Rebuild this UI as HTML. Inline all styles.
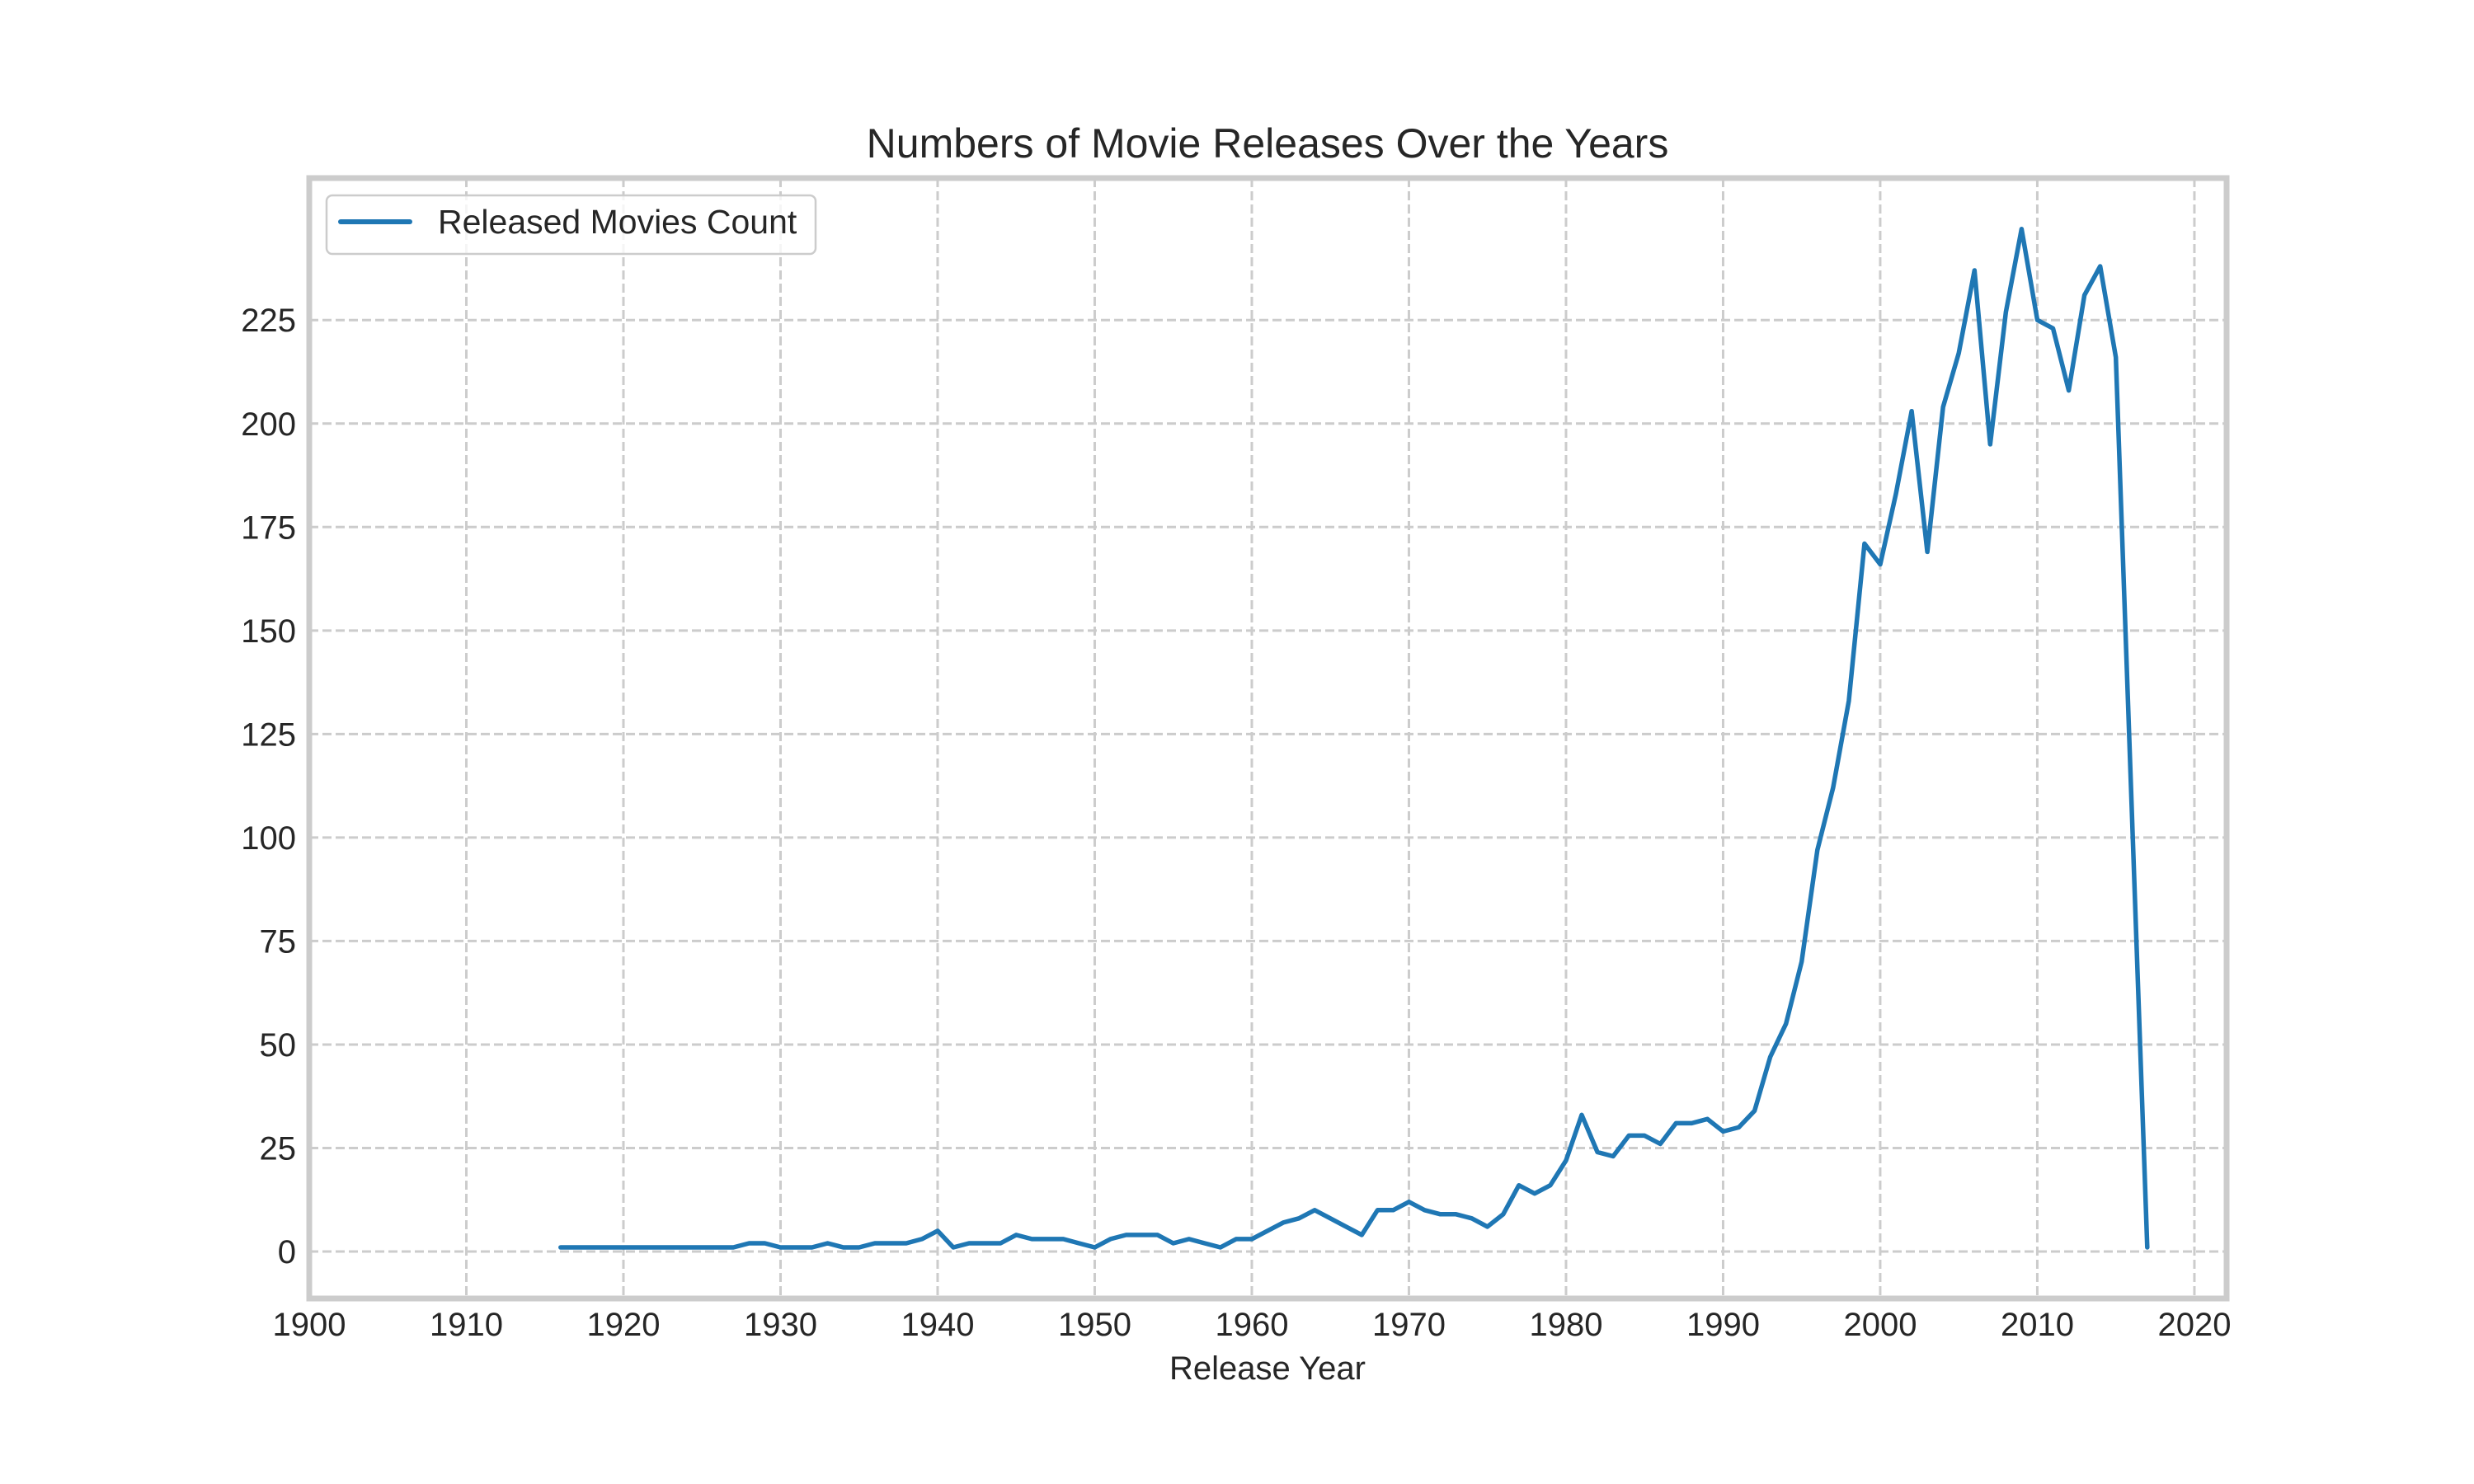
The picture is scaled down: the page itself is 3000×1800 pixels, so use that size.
<!DOCTYPE html>
<html><head><meta charset="utf-8"><style>
html,body{margin:0;padding:0;background:#fff;}
svg{display:block;font-family:"Liberation Sans",Arial,sans-serif;}
</style></head><body>
<svg id="chart" width="3000" height="1800" viewBox="0 0 3000 1800" xmlns="http://www.w3.org/2000/svg">
<rect x="0" y="0" width="3000" height="1800" fill="#fff"/>
<text x="1537" y="191" font-size="50" fill="#262626" text-anchor="middle">Numbers of Movie Releases Over the Years</text>
<text x="1537" y="1673" font-size="40" fill="#262626" text-anchor="middle">Release Year</text>
<g id="grid"></g>
<g id="ticks"></g>
<g id="series"></g>
<rect x="375" y="216" width="2325" height="1359" fill="none" stroke="#cccccc" stroke-width="7"/>
<g>
<rect x="396" y="237" width="593" height="71" rx="7" fill="#fff" fill-opacity="0.8" stroke="#cccccc" stroke-width="2.5"/>
<line x1="413" y1="269" x2="497" y2="269" stroke="#1f77b4" stroke-width="6" stroke-linecap="round"/>
<text x="531" y="283" font-size="41" fill="#262626">Released Movies Count</text>
</g>
</svg>
<script>
const years = [];
for (let y = 1916; y <= 2017; y++) years.push(y);
const counts = [
 1,1,1,1,1,1,1,1,1,1,1,1,2,2,          // 1916-1929
 1,1,1,2,1,1,2,2,2,3,5,1,2,2,2,4,3,3,3,2, // 1930-1949
 1,3,4,4,4,2,3,2,1,3,3,5,7,8,10,8,6,4,10,10, // 1950-1969
 12,10,9,9,8,6,9,16,14,16,22,33,24,23,28,28,26,31,31,32, // 1970-1989
 29,30,34,47,55,70,97,112,133,171,166,183,203,169,204,217,237,195,227,247, // 1990-2009
 225,223,208,231,238,216,108,1 // 2010-2017
];
const xTicks = [1900,1910,1920,1930,1940,1950,1960,1970,1980,1990,2000,2010,2020];
const yTicks = [0,25,50,75,100,125,150,175,200,225];

const X0=375, X1=2700, Y0=216, Y1=1575;
const xMin=1900, xMax=2022.05, yMin=-11.35, yMax=259.3;
function sx(v){return X0+(v-xMin)/(xMax-xMin)*(X1-X0);}
function sy(v){return Y1-(v-yMin)/(yMax-yMin)*(Y1-Y0);}
const NS="http://www.w3.org/2000/svg";
const grid=document.getElementById('grid'), ticks=document.getElementById('ticks'), series=document.getElementById('series');

xTicks.forEach(t=>{
  const l=document.createElementNS(NS,'line');
  l.setAttribute('x1',sx(t));l.setAttribute('x2',sx(t));l.setAttribute('y1',Y0);l.setAttribute('y2',Y1);
  l.setAttribute('stroke','#cccccc');l.setAttribute('stroke-width','3');l.setAttribute('stroke-dasharray','11,5');
  
  
  grid.appendChild(l);
  const tx=document.createElementNS(NS,'text');
  tx.setAttribute('x',sx(t));tx.setAttribute('y',1620);tx.setAttribute('font-size','40');tx.setAttribute('fill','#262626');tx.setAttribute('text-anchor','middle');
  tx.textContent=t;
  
  
  ticks.appendChild(tx);
});
yTicks.forEach(t=>{
  const l=document.createElementNS(NS,'line');
  l.setAttribute('x1',X0);l.setAttribute('x2',X1);l.setAttribute('y1',sy(t));l.setAttribute('y2',sy(t));
  l.setAttribute('stroke','#cccccc');l.setAttribute('stroke-width','3');l.setAttribute('stroke-dasharray','11,5');
  
  
  grid.appendChild(l);
  const tx=document.createElementNS(NS,'text');
  tx.setAttribute('x',359);tx.setAttribute('y',sy(t)+14);tx.setAttribute('font-size','40');tx.setAttribute('fill','#262626');tx.setAttribute('text-anchor','end');
  tx.textContent=t;
  
  
  ticks.appendChild(tx);
});
const pts=years.map((y,i)=>sx(y).toFixed(1)+','+sy(counts[i]).toFixed(1)).join(' ');
const pl=document.createElementNS(NS,'polyline');
pl.setAttribute('points',pts);pl.setAttribute('fill','none');pl.setAttribute('stroke','#1f77b4');
pl.setAttribute('stroke-width','5.5');pl.setAttribute('stroke-linejoin','round');pl.setAttribute('stroke-linecap','round');


series.appendChild(pl);
</script>
</body></html>
